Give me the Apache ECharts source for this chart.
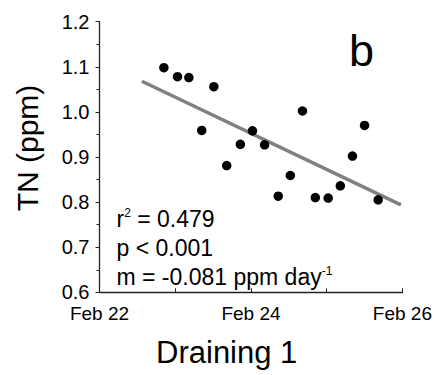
<!DOCTYPE html>
<html>
<head>
<meta charset="utf-8">
<script src="https://cdn.jsdelivr.net/npm/echarts@6/dist/echarts.min.js"></script>
<style>
html,body{margin:0;padding:0;background:#fff;}
#chart{width:435px;height:375px;}
</style>
</head>
<body>
<div id="chart"></div>
<script>
// Day of February (fractional) for each sample
var sampleDays = [22.85, 23.03, 23.18, 23.35, 23.51, 23.68, 23.86, 24.02, 24.18, 24.36, 24.52, 24.68, 24.85, 25.02, 25.18, 25.34, 25.50, 25.68];
// TN concentration (ppm)
var tnValues = [1.098, 1.078, 1.076, 0.959, 1.056, 0.881, 0.928, 0.958, 0.927, 0.813, 0.859, 1.002, 0.810, 0.809, 0.836, 0.902, 0.970, 0.805];
// Regression line endpoints
var fitDays = [22.56, 25.98];
var fitValues = [1.068, 0.794];
var xTicks = [22, 24, 26];
var yTicks = [0.6, 0.7, 0.8, 0.9, 1.0, 1.1, 1.2];

var font = '"Liberation Sans", Arial, sans-serif';
var chart = echarts.init(document.getElementById('chart'), null, {renderer: 'svg'});
var pts = sampleDays.map(function (d, i) { return [d, tnValues[i]]; });
var fit = fitDays.map(function (d, i) { return [d, fitValues[i]]; });

chart.setOption({
  animation: false,
  backgroundColor: '#fff',
  grid: {left: 99.5, right: 32, top: 21.7, bottom: 82.7, containLabel: false},
  xAxis: {
    type: 'value', min: 22, max: 26, interval: 1,
    axisLine: {show: true, lineStyle: {color: '#222', width: 1.3}},
    axisTick: {show: true, inside: true, length: 4, lineStyle: {color: '#222'}},
    splitLine: {show: false},
    axisLabel: {
      color: '#000', fontFamily: font, fontSize: 19, lineHeight: 19, margin: 12,
      formatter: function (v) { return xTicks.indexOf(v) >= 0 ? 'Feb ' + v : ''; }
    }
  },
  yAxis: {
    type: 'value', min: 0.6, max: 1.2, interval: 0.1,
    axisLine: {show: true, lineStyle: {color: '#222', width: 1.3}},
    axisTick: {show: true, inside: false, length: 4, lineStyle: {color: '#222'}},
    minorTick: {show: true, splitNumber: 2, length: 3, lineStyle: {color: '#222'}},
    splitLine: {show: false},
    axisLabel: {
      color: '#000', fontFamily: font, fontSize: 20, lineHeight: 18, margin: 10,
      formatter: function (v) { return v.toFixed(1); }
    }
  },
  series: [
    {
      type: 'line', data: fit, symbol: 'none', silent: true,
      lineStyle: {color: '#808080', width: 3.5}, z: 2
    },
    {
      type: 'scatter', data: pts, symbol: 'circle', symbolSize: 9.5,
      itemStyle: {color: '#000', opacity: 1}, z: 3
    }
  ],
  graphic: [
    {type: 'text', left: 349, top: 51.3 - 23, style: {text: 'b', font: '45px ' + font, fill: '#000'}},
    {type: 'text', x: 27, y: 148, rotation: Math.PI / 2,
     style: {text: 'TN (ppm)', font: '30px ' + font, fill: '#000', textAlign: 'center', textVerticalAlign: 'middle'}},
    {type: 'text', x: 226.7, y: 352,
     style: {text: 'Draining 1', font: '31px ' + font, fill: '#000', textAlign: 'center', textVerticalAlign: 'middle'}},
    {type: 'text', x: 116.5, y: 219,
     style: {text: '{n|r}{s|2}{n| = 0.479}', textVerticalAlign: 'middle', fill: '#000',
       rich: {n: {fontSize: 23, fontFamily: font, fill: '#000'}, s: {fontSize: 12, fontFamily: font, fill: '#000', padding: [0, 0, 12, 0]}}}},
    {type: 'text', x: 116.5, y: 248.3,
     style: {text: 'p < 0.001', font: '23px ' + font, fill: '#000', textVerticalAlign: 'middle'}},
    {type: 'text', x: 116.5, y: 277.3,
     style: {text: '{n|m = -0.081 ppm day}{s|-1}', textVerticalAlign: 'middle', fill: '#000',
       rich: {n: {fontSize: 23, fontFamily: font, fill: '#000'}, s: {fontSize: 12, fontFamily: font, fill: '#000', padding: [0, 0, 12, 0]}}}}
  ]
});
</script>
</body>
</html>
